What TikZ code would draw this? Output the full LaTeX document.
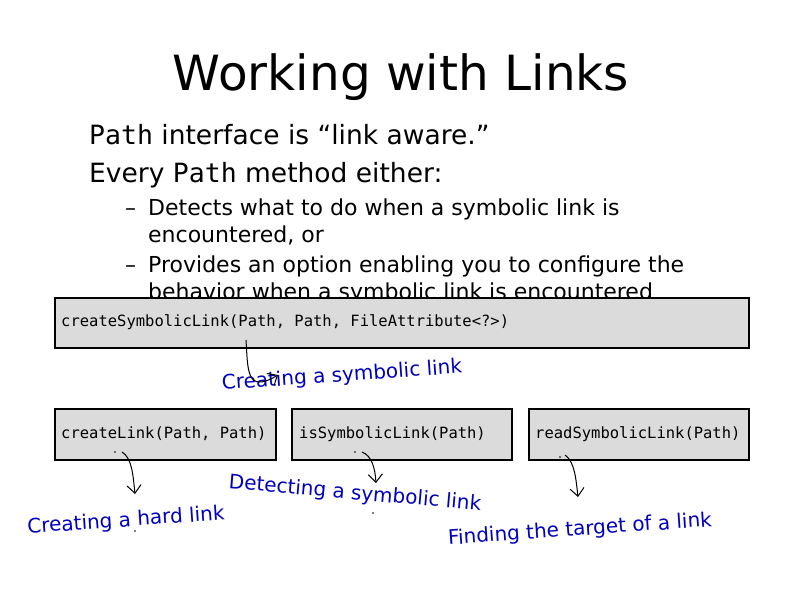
\documentclass[tikz,border=0pt]{standalone}
\usepackage{fontspec}
\setmainfont{DejaVu Sans}
\setmonofont{DejaVu Sans Mono}
\usetikzlibrary{arrows.meta}
\begin{document}
\begin{tikzpicture}[x=1pt,y=-1pt,
  mbox/.style={draw=black,line width=1.5pt,fill=black!14,anchor=north west,inner sep=0pt},
  mono/.style={font=\fontsize{15.5}{18}\selectfont\ttfamily,anchor=west,inner sep=0pt},
  note/.style={font=\fontsize{20}{24}\selectfont,text=blue!75!black,inner sep=0pt},
  hand/.style={line width=1pt,-{Straight Barb[length=8pt,width=14pt]}},
  txt/.style={anchor=base west,inner sep=0pt}]
\useasboundingbox (0,0) rectangle (800,600);
\node[inner sep=0pt,font=\fontsize{48.5}{54}\selectfont] (title) at (401,77) {Working with Links};
\node[txt,font=\fontsize{26.5}{30}\selectfont] (l1) at (89,144) {\texttt{Path} interface is “link aware.”};
\node[txt,font=\fontsize{26.5}{30}\selectfont] (l2) at (89,182) {Every \texttt{Path} method either:};
\node[txt,font=\fontsize{22}{26}\selectfont] (d1) at (125,215) {–};
\node[txt,font=\fontsize{22}{26}\selectfont] (s1) at (148,215) {Detects what to do when a symbolic link is};
\node[txt,font=\fontsize{22}{26}\selectfont] (s1b) at (148,242) {encountered, or};
\node[txt,font=\fontsize{22}{26}\selectfont] (d2) at (125,272) {–};
\node[txt,font=\fontsize{22}{26}\selectfont] (s2) at (148,272) {Provides an option enabling you to configure the};
\node[txt,font=\fontsize{22}{26}\selectfont] (s2b) at (148,299) {behavior when a symbolic link is encountered};
\node[mbox,minimum width=694,minimum height=50] (b0) at (54,297) {};
\node[mono] (t0) at (61,322) {createSymbolicLink(Path, Path, FileAttribute<?>)};
\node[mbox,minimum width=221,minimum height=51] (b1) at (54,408) {};
\node[mono] (t1) at (61,434) {createLink(Path, Path)};
\node[mbox,minimum width=220,minimum height=51] (b2) at (291,408) {};
\node[mono] (t2) at (299,434) {isSymbolicLink(Path)};
\node[mbox,minimum width=220,minimum height=51] (b3) at (528,408) {};
\node[mono] (t3) at (535,434) {readSymbolicLink(Path)};
\node[note,rotate=4] (n0) at (342,376) {Creating a symbolic link};
\node[note,rotate=-5] (n2) at (355,494) {Detecting a symbolic link};
\node[note,rotate=4] (n1) at (126,521) {Creating a hard link};
\node[note,rotate=4] (n3) at (580,530) {Finding the target of a link};
\coordinate (a0s) at (246,340); \coordinate (a0e) at (278,375);
\coordinate (a1s) at (122,452); \coordinate (a1e) at (135,494);
\coordinate (a2s) at (362,452); \coordinate (a2e) at (376,483);
\coordinate (a3s) at (565,455); \coordinate (a3e) at (578,497);
\draw[hand] (a0s) .. controls (248,370) and (246,394) .. (a0e);
\draw[hand] (a1s) .. controls (132,458) and (133,475) .. (a1e);
\draw[hand] (a2s) .. controls (372,456) and (375,468) .. (a2e);
\draw[hand] (a3s) .. controls (575,462) and (576,480) .. (a3e);
\foreach \p [count=\i] in {(115,452),(355,452),(560,457),(135,531),(373,513)}
  \fill \p coordinate (dot\i) circle (0.9);
\end{tikzpicture}
\end{document}
